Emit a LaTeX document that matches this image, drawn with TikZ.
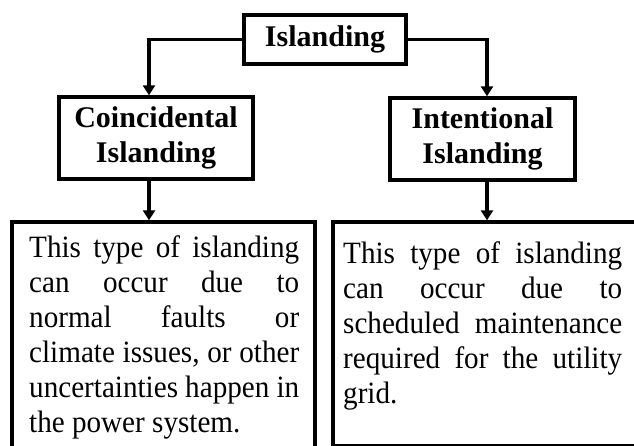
\documentclass[tikz,border=0pt]{standalone}
\usepackage{fontspec}
\setmainfont{Liberation Serif}
\newfontfamily\bodyfont[FakeStretch=0.94]{Liberation Serif}
\usetikzlibrary{arrows.meta}
\begin{document}
\begin{tikzpicture}[x=1pt,y=-1pt,
  box/.style={draw=black,line width=3.4pt,inner sep=0pt,fill=none},
  title/.style={font=\fontsize{30}{35}\selectfont\bfseries,align=center},
  body/.style={font=\bodyfont\fontsize{31}{35}\selectfont,align=left,inner sep=0pt,anchor=north west},
  arr/.style={line width=3.4pt,-{Triangle[width=12pt,length=10pt]}}]
\clip (0,0) rectangle (634,445);
\useasboundingbox (0,0) rectangle (634,445);
\coordinate (la) at (149,0);
\coordinate (ra) at (487,0);
% title boxes
\node[box,title,minimum width=162pt,minimum height=49pt] (top) at (325,39.5) {Islanding};
\node[box,title,minimum width=194pt,minimum height=82pt] (coinc) at (156,138) {Coincidental\\Islanding};
\node[box,title,minimum width=185pt,minimum height=82pt] (intent) at (482.5,139) {Intentional\\Islanding};
% description boxes
\node[box,minimum width=303pt,minimum height=228pt] (ldesc) at (163.5,336) {};
\node[box,minimum width=307pt,minimum height=224pt] (rdesc) at (486.5,334) {};
\node[body] (ltext) at (29,235) {%
\makebox[270pt][s]{This type of islanding}\\
\makebox[270pt][s]{can occur due to}\\
\makebox[270pt][s]{normal faults or}\\
\makebox[270pt][s]{climate issues, or other}\\
\makebox[270pt][s]{uncertainties happen in}\\
the power system.};
\node[body] (rtext) at (343,241) {%
\makebox[279pt][s]{This type of islanding}\\
\makebox[279pt][s]{can occur due to}\\
\makebox[279pt][s]{scheduled maintenance}\\
\makebox[279pt][s]{required for the utility}\\
grid.};
% connectors
\draw[arr] (top.west) -| (coinc.north -| la);
\draw[arr] (top.east) -| (intent.north -| ra);
\draw[arr] (coinc.south -| la) -- (ldesc.north -| la);
\draw[arr] (intent.south -| ra) -- (rdesc.north -| ra);
\end{tikzpicture}
\end{document}
